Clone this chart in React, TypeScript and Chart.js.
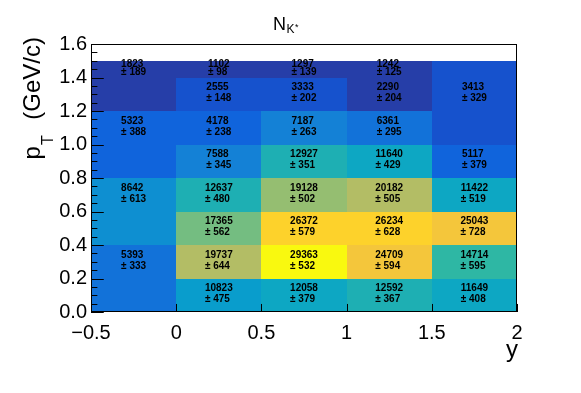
import { useEffect, useRef } from "react";
import { Chart, registerables } from "chart.js";

Chart.register(...registerables);

// ---- data (bin edges in axis units, contents and errors) ----
const binXLow = [
  -0.5, -0.5, -0.5, -0.5,
  0, 0, 0, 0, 0, 0, 0, 0,
  0.5, 0.5, 0.5, 0.5, 0.5, 0.5, 0.5, 0.5,
  1, 1, 1, 1, 1, 1, 1, 1,
  1.5, 1.5, 1.5, 1.5, 1.5, 1.5,
];
const binXHigh = [
  0, 0, 0, 0,
  0.5, 0.5, 0.5, 0.5, 0.5, 0.5, 0.5, 0.5,
  1, 1, 1, 1, 1, 1, 1, 1,
  1.5, 1.5, 1.5, 1.5, 1.5, 1.5, 1.5, 1.5,
  2, 2, 2, 2, 2, 2,
];
const binYLow = [
  0, 0.4, 0.8, 1.2,
  0, 0.2, 0.4, 0.6, 0.8, 1.0, 1.2, 1.4,
  0, 0.2, 0.4, 0.6, 0.8, 1.0, 1.2, 1.4,
  0, 0.2, 0.4, 0.6, 0.8, 1.0, 1.2, 1.4,
  0, 0.2, 0.4, 0.6, 0.8, 1.0,
];
const binYHigh = [
  0.4, 0.8, 1.2, 1.5,
  0.2, 0.4, 0.6, 0.8, 1.0, 1.2, 1.4, 1.5,
  0.2, 0.4, 0.6, 0.8, 1.0, 1.2, 1.4, 1.5,
  0.2, 0.4, 0.6, 0.8, 1.0, 1.2, 1.4, 1.5,
  0.2, 0.4, 0.6, 0.8, 1.0, 1.5,
];
// sub-cell (in y) where the text of each bin is printed
const textYLow = [
  0.2, 0.6, 1.0, 1.4,
  0, 0.2, 0.4, 0.6, 0.8, 1.0, 1.2, 1.4,
  0, 0.2, 0.4, 0.6, 0.8, 1.0, 1.2, 1.4,
  0, 0.2, 0.4, 0.6, 0.8, 1.0, 1.2, 1.4,
  0, 0.2, 0.4, 0.6, 0.8, 1.2,
];
const textYHigh = [
  0.4, 0.8, 1.2, 1.5,
  0.2, 0.4, 0.6, 0.8, 1.0, 1.2, 1.4, 1.5,
  0.2, 0.4, 0.6, 0.8, 1.0, 1.2, 1.4, 1.5,
  0.2, 0.4, 0.6, 0.8, 1.0, 1.2, 1.4, 1.5,
  0.2, 0.4, 0.6, 0.8, 1.0, 1.4,
];
const binValues = [
  5393, 8642, 5323, 1823,
  10823, 19737, 17365, 12637, 7588, 4178, 2555, 1102,
  12058, 29363, 26372, 19128, 12927, 7187, 3333, 1297,
  12592, 24709, 26234, 20182, 11640, 6361, 2290, 1242,
  11649, 14714, 25043, 11422, 5117, 3413,
];
const binErrors = [
  333, 613, 388, 189,
  475, 644, 562, 480, 345, 238, 148, 98,
  379, 532, 579, 502, 351, 263, 202, 139,
  367, 594, 628, 505, 429, 295, 204, 125,
  408, 595, 728, 519, 379, 329,
];

const xMin = -0.5;
const xMax = 2;
const xStep = 0.5;
const yMin = 0;
const yMax = 1.6;
const yStep = 0.2;
const yMinorStep = 0.05;

const titleMain = "N";
const titleSub = "K";
const titleSup = "*";
const yTitleMain = "p";
const yTitleSub = "T";
const yTitleRest = " (GeV/c)";
const xTitle = "y";

// ---- ROOT kBird palette ----
const birdStops = [0.0, 0.125, 0.25, 0.375, 0.5, 0.625, 0.75, 0.875, 1.0];
const birdRed = [0.2082, 0.0592, 0.078, 0.0232, 0.1802, 0.5301, 0.8186, 0.9956, 0.9764];
const birdGreen = [0.1664, 0.3599, 0.5041, 0.6419, 0.7178, 0.7492, 0.7328, 0.7862, 0.9832];
const birdBlue = [0.5293, 0.8684, 0.8385, 0.7914, 0.6425, 0.4662, 0.3499, 0.1968, 0.0539];
const nColors = 255;
const nLevels = 20;

function buildPalette(): string[] {
  const out: string[] = [];
  for (let g = 1; g < birdStops.length; g++) {
    const n = Math.floor(nColors * birdStops[g]) - Math.floor(nColors * birdStops[g - 1]);
    for (let c = 0; c < n; c++) {
      const r = birdRed[g - 1] + (c * (birdRed[g] - birdRed[g - 1])) / n;
      const gg = birdGreen[g - 1] + (c * (birdGreen[g] - birdGreen[g - 1])) / n;
      const b = birdBlue[g - 1] + (c * (birdBlue[g] - birdBlue[g - 1])) / n;
      out.push(`rgb(${Math.round(r * 255)},${Math.round(gg * 255)},${Math.round(b * 255)})`);
    }
  }
  return out;
}
const palette = buildPalette();
const zMin = Math.min(...binValues);
const zMax = Math.max(...binValues);
function colorFor(v: number): string {
  let lvl = Math.floor(0.01 + ((v - zMin) / (zMax - zMin)) * nLevels);
  if (lvl > nLevels - 1) lvl = nLevels - 1;
  if (lvl < 0) lvl = 0;
  const idx = Math.floor(((lvl + 0.99) * nColors) / nLevels);
  return palette[Math.min(idx, palette.length - 1)];
}

const FONT = "'Liberation Sans', Arial, Helvetica, sans-serif";

function fmtTick(v: number, digits: number): string {
  const s = digits > 0 ? v.toFixed(digits) : String(Math.round(v * 100) / 100);
  return s.replace("-", "\u2212");
}

const th2Plugin = {
  id: "th2",
  beforeDatasetsDraw(chart: any) {
    const ctx = chart.ctx as CanvasRenderingContext2D;
    const xs = chart.scales.x;
    const ys = chart.scales.y;
    ctx.save();
    // cells
    for (let i = 0; i < binValues.length; i++) {
      const x0 = Math.round(xs.getPixelForValue(binXLow[i]));
      const x1 = Math.round(xs.getPixelForValue(binXHigh[i]));
      const y0 = Math.round(ys.getPixelForValue(binYHigh[i]));
      const y1 = Math.round(ys.getPixelForValue(binYLow[i]));
      ctx.fillStyle = colorFor(binValues[i]);
      ctx.fillRect(x0, y0, x1 - x0, y1 - y0);
    }
    // texts
    ctx.fillStyle = "#000";
    ctx.font = `bold 10px ${FONT}`;
    ctx.textAlign = "left";
    ctx.textBaseline = "middle";
    for (let i = 0; i < binValues.length; i++) {
      const xc = (xs.getPixelForValue(binXLow[i]) + xs.getPixelForValue(binXHigh[i])) / 2;
      const ty0 = ys.getPixelForValue(textYHigh[i]);
      const ty1 = ys.getPixelForValue(textYLow[i]);
      const yc = (ty0 + ty1) / 2;
      const s = Math.min(11, (ty1 - ty0) * 0.45);
      const l1 = String(binValues[i]);
      const l2 = "\u00b1 " + String(binErrors[i]);
      const w = Math.max(ctx.measureText(l1).width, ctx.measureText(l2).width);
      const left = xc - w / 2;
      ctx.fillText(l1, left, yc - s * 0.6);
      ctx.fillText(l2, left, yc + s * 0.4);
    }
    ctx.restore();
  },
  afterDraw(chart: any) {
    const ctx = chart.ctx as CanvasRenderingContext2D;
    const xs = chart.scales.x;
    const ys = chart.scales.y;
    const a = chart.chartArea;
    ctx.save();
    ctx.strokeStyle = "#000";
    ctx.lineWidth = 1;
    // frame
    ctx.strokeRect(Math.round(a.left) + 0.5, Math.round(a.top) + 0.5, Math.round(a.right - a.left) - 1, Math.round(a.bottom - a.top) - 1);
    // y ticks
    const yMajLen = 0.03 * (a.right - a.left);
    const yMinLen = yMajLen / 2;
    ctx.beginPath();
    const nMinor = Math.round((yMax - yMin) / yMinorStep);
    for (let k = 0; k <= nMinor; k++) {
      const v = yMin + k * yMinorStep;
      const isMajor = Math.abs(v / yStep - Math.round(v / yStep)) < 1e-6;
      const py = Math.round(ys.getPixelForValue(v)) + 0.5;
      ctx.moveTo(a.left, py);
      ctx.lineTo(a.left + (isMajor ? yMajLen : yMinLen), py);
    }
    // x ticks
    const xMajLen = 0.03 * (a.bottom - a.top);
    for (const t of xs.ticks) {
      const px = Math.round(xs.getPixelForValue(t.value)) + 0.5;
      ctx.moveTo(px, a.bottom);
      ctx.lineTo(px, a.bottom - xMajLen);
    }
    ctx.stroke();

    ctx.fillStyle = "#000";
    // main title
    ctx.textBaseline = "alphabetic";
    ctx.textAlign = "left";
    ctx.font = `18px ${FONT}`;
    const wN = ctx.measureText(titleMain).width;
    ctx.font = `12px ${FONT}`;
    const wK = ctx.measureText(titleSub).width;
    const tx = 273;
    ctx.font = `18px ${FONT}`;
    ctx.fillText(titleMain, tx, 30);
    ctx.font = `12px ${FONT}`;
    ctx.fillText(titleSub, tx + wN + 0.5, 33);
    ctx.font = `9px ${FONT}`;
    ctx.fillText(titleSup, tx + wN + wK + 1, 30);

    // x title
    ctx.font = `24px ${FONT}`;
    ctx.textAlign = "right";
    ctx.fillText(xTitle, a.right + 1, 357);

    // y title (rotated)
    ctx.save();
    ctx.translate(40, 37);
    ctx.rotate(-Math.PI / 2);
    ctx.textAlign = "left";
    ctx.font = `24px ${FONT}`;
    const wp = ctx.measureText(yTitleMain).width;
    const wr = ctx.measureText(yTitleRest).width;
    ctx.font = `16px ${FONT}`;
    const wt = ctx.measureText(yTitleSub).width;
    const g1 = 1;
    const g2 = 9;
    const total = wp + g1 + wt + g2 + wr;
    let cx = -total;
    ctx.font = `24px ${FONT}`;
    ctx.fillText(yTitleMain, cx, 0);
    cx += wp + g1;
    ctx.font = `16px ${FONT}`;
    ctx.fillText(yTitleSub, cx, 13);
    cx += wt + g2;
    ctx.font = `24px ${FONT}`;
    ctx.fillText(yTitleRest, cx, 0);
    ctx.restore();

    ctx.restore();
  },
};

export default function App() {
  const ref = useRef<HTMLCanvasElement | null>(null);
  useEffect(() => {
    if (!ref.current) return;
    const points = binValues.map((v, i) => ({
      x: (binXLow[i] + binXHigh[i]) / 2,
      y: (binYLow[i] + binYHigh[i]) / 2,
    }));
    const chart = new Chart(ref.current, {
      type: "scatter",
      data: {
        datasets: [{ data: points, pointRadius: 0, pointHoverRadius: 0 }],
      },
      options: {
        animation: false,
        responsive: false,
        events: [],
        layout: { padding: { left: 0, top: 44, right: 64, bottom: 0 } },
        plugins: {
          legend: { display: false },
          tooltip: { enabled: false },
          title: { display: false },
        },
        scales: {
          x: {
            type: "linear",
            min: xMin,
            max: xMax,
            grid: { display: false, drawTicks: false },
            border: { display: false },
            ticks: {
              stepSize: xStep,
              padding: 9,
              color: "#000",
              maxRotation: 0,
              autoSkip: false,
              font: { family: FONT, size: 20 },
              callback: (v: any) => fmtTick(Number(v), 0),
            },
            afterFit: (s: any) => {
              s.height = 81;
            },
          },
          y: {
            type: "linear",
            min: yMin,
            max: yMax,
            grid: { display: false, drawTicks: false },
            border: { display: false },
            ticks: {
              stepSize: yStep,
              padding: 4,
              color: "#000",
              autoSkip: false,
              font: { family: FONT, size: 20 },
              callback: (v: any) => fmtTick(Number(v), 1),
            },
            afterFit: (s: any) => {
              s.width = 91;
            },
          },
        },
      },
      plugins: [th2Plugin],
    });
    return () => chart.destroy();
  }, []);
  return (
    <div style={{ position: "absolute", left: 0, top: 0, width: 581, height: 393, background: "#fff" }}>
      <canvas ref={ref} width={581} height={393} style={{ display: "block" }} />
    </div>
  );
}
